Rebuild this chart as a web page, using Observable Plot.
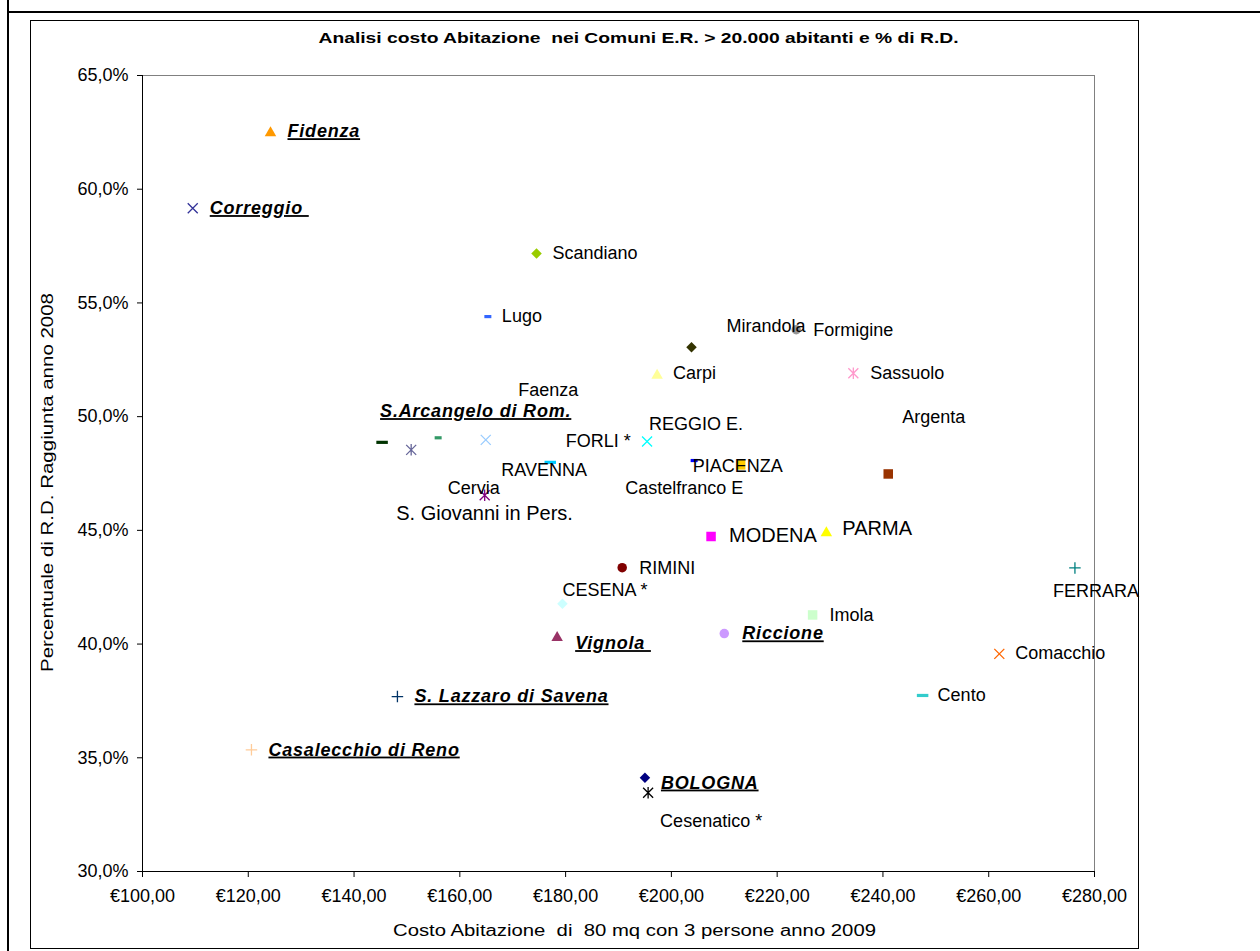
<!DOCTYPE html>
<html>
<head>
<meta charset="utf-8">
<script src="https://cdn.jsdelivr.net/npm/d3@7"></script>
<script src="https://cdn.jsdelivr.net/npm/@observablehq/plot@0.6"></script>
<style>
  html, body { margin: 0; padding: 0; background: #fff; }
  #wrap { position: relative; width: 1260px; height: 951px; overflow: hidden; font-family: "Liberation Sans", Arial, sans-serif; }
  .line-top { position: absolute; left: 7px; top: 11px; width: 1253px; height: 2px; background: #000; }
  .line-left { position: absolute; left: 7px; top: 0; width: 2px; height: 951px; background: #000; }
  .box { position: absolute; left: 30px; top: 20px; width: 1109px; height: 929px; border: 1px solid #000; box-sizing: border-box; }
  #chart { position: absolute; left: 0; top: 0; }
</style>
</head>
<body>
<div id="wrap">
  <div class="line-top"></div>
  <div class="line-left"></div>
  <div class="box"></div>
  <div id="chart"></div>
</div>
<script>
// ---------------- DATA ----------------
const cities = [
  "Fidenza", "Correggio ", "Scandiano", "Lugo", "Mirandola", "Formigine", "Carpi", "Sassuolo",
  "Argenta", "S.Arcangelo di Rom.", "S. Giovanni in Pers.", "Faenza", "FORLI *", "REGGIO E.",
  "RAVENNA", "Castelfranco E", "PIACENZA", "Cervia", "MODENA", "PARMA", "FERRARA", "RIMINI",
  "CESENA *", "Imola", "Vignola ", "Riccione", "Comacchio", "Cento", "S. Lazzaro di Savena",
  "Casalecchio di Reno", "BOLOGNA", "Cesenatico *"
];
// Costo Abitazione di 80 mq con 3 persone anno 2009 (€)
const costo = [
  124.2, 109.5, 174.5, 165.3, 203.8, 223.6, 197.3, 234.4,
  241.0, 145.3, 150.8, 155.9, 164.9, 195.4,
  177.1, 204.3, 213.1, 164.7, 207.5, 229.3, 276.3, 190.7,
  179.4, 226.7, 178.4, 210.0, 262.0, 247.5, 148.2,
  120.6, 195.0, 195.6
];
// Percentuale di R.D. raggiunta anno 2008 (%)
const percRD = [
  62.54, 59.16, 57.17, 54.40, 53.05, 53.82, 51.88, 51.91,
  47.48, 48.87, 48.54, 49.07, 48.98, 48.91,
  47.99, 48.07, 47.88, 46.54, 44.73, 44.95, 43.35, 43.36,
  41.77, 41.28, 40.34, 40.46, 39.57, 37.74, 37.69,
  35.35, 34.12, 33.46
];
const xTicks = [100, 120, 140, 160, 180, 200, 220, 240, 260, 280];
const yTicks = [30, 35, 40, 45, 50, 55, 60, 65];
const titleText = "Analisi costo Abitazione  nei Comuni E.R. > 20.000 abitanti e % di R.D.";
const xTitle = "Costo Abitazione  di  80 mq con 3 persone anno 2009";
const yTitle = "Percentuale di R.D. Raggiunta anno 2008";

// ---------------- STYLE (markers & labels) ----------------
const markerShape = [
  "triangle", "times", "diamond", "dashS", "diamond", "circle", "triangle", "asterisk",
  "square", "dash", "asterisk", "dashS", "times", "times",
  "dash", "dashS", "square", "asterisk", "square", "triangle", "plus", "circle",
  "diamond", "square", "triangle", "circle", "times", "dash", "plus",
  "plus", "diamond", "asterisk"
];
const markerColor = [
  "#FF9900", "#333399", "#99CC00", "#3366FF", "#333300", "#969696", "#FFFF99", "#FF99CC",
  "#993300", "#003300", "#666699", "#339966", "#99CCFF", "#00FFFF",
  "#00CCFF", "#0000FF", "#FFCC00", "#800080", "#FF00FF", "#FFFF00", "#008080", "#800000",
  "#CCFFFF", "#CCFFCC", "#993366", "#CC99FF", "#FF6600", "#33CCCC", "#003366",
  "#FFCC99", "#000080", "#000000"
];
const labelKind = [
  "bi", "bi", "n", "n", "n", "n", "n", "n",
  "n", "bi", "big", "n", "n", "n",
  "n", "n", "n", "n", "big", "big", "n", "n",
  "n", "n", "bi", "bi", "n", "n", "bi",
  "bi", "bi", "n"
];
const labelDx = [
  17, 17, 16, 14, 35, 17, 16, 17,
  14, -2, -15, 80, 80, 2,
  -49, -69, -48, -37, 18, 16, -22, 17,
  0, 17, 18, 18, 16, 15, 17,
  17, 16, 12
];
const labelDy = [
  0, 0, 0, 0, -21, 0, -1, 0,
  -57, -31, 64, -48, 1, -17,
  8, 28, 1, -7, -1, -3, 23, 1,
  -14, 0, 7, 0, -1, 0, 0,
  0, 5, 28
];

// ---------------- SYMBOLS ----------------
const sym = f => ({draw(ctx, size) { f(ctx, Math.sqrt(size / Math.PI)); }});
const SYM = {
  triangle: sym((c, r) => { c.moveTo(0, -r * 1.05); c.lineTo(r * 1.15, r * 0.95); c.lineTo(-r * 1.15, r * 0.95); c.closePath(); }),
  diamond:  sym((c, r) => { c.moveTo(0, -r * 1.05); c.lineTo(r * 1.05, 0); c.lineTo(0, r * 1.05); c.lineTo(-r * 1.05, 0); c.closePath(); }),
  square:   sym((c, r) => { const h = r * 0.95; c.rect(-h, -h, 2 * h, 2 * h); }),
  circle:   sym((c, r) => { const h = r * 0.95; c.moveTo(h, 0); c.arc(0, 0, h, 0, 2 * Math.PI); }),
  times:    sym((c, r) => { const h = r * 1.0; c.moveTo(-h, -h); c.lineTo(h, h); c.moveTo(h, -h); c.lineTo(-h, h); }),
  plus:     sym((c, r) => { const h = r * 1.15; c.moveTo(-h, 0); c.lineTo(h, 0); c.moveTo(0, -h); c.lineTo(0, h); }),
  asterisk: sym((c, r) => { const h = r * 1.0; c.moveTo(-h, -h); c.lineTo(h, h); c.moveTo(h, -h); c.lineTo(-h, h); c.moveTo(0, -h * 1.15); c.lineTo(0, h * 1.15); }),
  dash:     sym((c, r) => { c.rect(-r * 1.15, -r * 0.32, r * 2.3, r * 0.64); }),
  dashS:    sym((c, r) => { c.rect(-r * 0.7, -r * 0.32, r * 1.4, r * 0.64); })
};
const strokeShapes = new Set(["times", "plus", "asterisk"]);

const rows = cities.map((c, i) => ({i, city: c, costo: costo[i], perc: percRD[i]}));

const FONT = "'Liberation Sans', Arial, Helvetica, sans-serif";
const fmtX = d => "€" + d.toFixed(2).replace(".", ",");
const fmtY = d => d.toFixed(1).replace(".", ",") + "%";

const markerMarks = rows.map(d => {
  const s = markerShape[d.i];
  const stroked = strokeShapes.has(s);
  return Plot.dot([d], {
    x: "costo", y: "perc", r: 5, symbol: SYM[s],
    fill: stroked ? "none" : markerColor[d.i],
    stroke: stroked ? markerColor[d.i] : "none",
    strokeWidth: stroked ? 1.3 : 0
  });
});

const labelMarks = rows.map(d => {
  const k = labelKind[d.i];
  return Plot.text([d], {
    x: "costo", y: "perc", text: "city",
    dx: labelDx[d.i], dy: labelDy[d.i],
    textAnchor: "start", lineAnchor: "middle",
    fontFamily: FONT,
    fontSize: k === "big" ? 20 : 18,
    fontWeight: k === "bi" ? "bold" : "normal",
    fontStyle: k === "bi" ? "italic" : "normal",
    fill: "#000"
  });
});

const chart = Plot.plot({
  width: 1260,
  height: 951,
  marginLeft: 142,
  marginRight: 166,
  marginTop: 75,
  marginBottom: 80,
  style: {fontFamily: FONT, background: "transparent", overflow: "visible"},
  x: {domain: [100, 280]},
  y: {domain: [30, 65]},
  marks: [
    Plot.frame({stroke: "#808080", strokeWidth: 1}),
    Plot.axisX({ticks: xTicks, tickFormat: fmtX, tickSize: 6, tickPadding: 12, fontSize: 18, label: null, stroke: "#000", fill: "#000", fontFamily: FONT}),
    Plot.axisY({ticks: yTicks, tickFormat: fmtY, tickSize: 5, tickPadding: 9, fontSize: 18, label: null, stroke: "#000", fill: "#000", fontFamily: FONT}),
    Plot.ruleX([100], {stroke: "#000"}),
    Plot.ruleY([30], {stroke: "#000"}),
    ...markerMarks,
    ...labelMarks,
    Plot.text([titleText], {frameAnchor: "top", dx: 20, dy: -37, textAnchor: "middle", lineAnchor: "middle", fontSize: 15, fontWeight: "bold", fontFamily: FONT, fill: "#000"}),
    Plot.text([xTitle], {frameAnchor: "bottom", dx: 16, dy: 59, textAnchor: "middle", lineAnchor: "middle", fontSize: 16, fontFamily: FONT, fill: "#000"}),
    Plot.text([yTitle], {frameAnchor: "left", dx: -95, dy: 9, rotate: -90, textAnchor: "middle", lineAnchor: "middle", fontSize: 16, fontFamily: FONT, fill: "#000"})
  ]
});

const sel = d3.select(chart);
const byText = t => sel.selectAll("text").filter(function() { return this.textContent === t; });
byText(titleText).attr("textLength", 640).attr("lengthAdjust", "spacingAndGlyphs").style("white-space", "pre");
byText(xTitle).attr("textLength", 483).attr("lengthAdjust", "spacingAndGlyphs").style("white-space", "pre");
byText(yTitle).attr("textLength", 379).attr("lengthAdjust", "spacingAndGlyphs");
cities.forEach((c, i) => {
  if (labelKind[i] === "bi") {
    byText(c).style("text-decoration", "underline").style("letter-spacing", "0.8px").style("white-space", "pre");
  }
});

document.getElementById("chart").appendChild(chart);
</script>
</body>
</html>
